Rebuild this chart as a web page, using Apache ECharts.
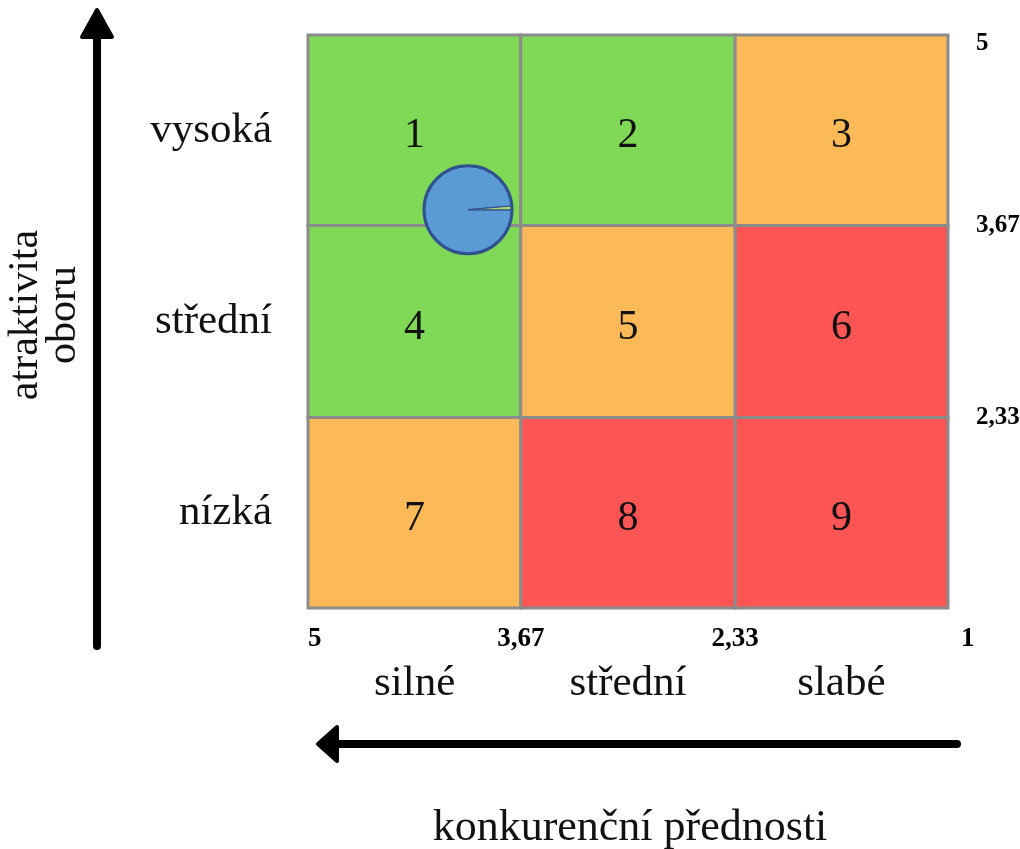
<!DOCTYPE html>
<html>
<head>
<meta charset="utf-8">
<script src="https://cdn.jsdelivr.net/npm/echarts@6/dist/echarts.min.js"></script>
<style>
  html, body { margin: 0; padding: 0; background: #ffffff; }
  #chart { width: 1020px; height: 849px; }
</style>
</head>
<body>
<div id="chart"></div>
<script>
// GE / McKinsey matrix: competitive strength (x, reversed) vs. industry attractiveness (y)
const xBounds = [5, 3.67, 2.33, 1];          // konkurenční přednosti, left to right
const yBounds = [5, 3.67, 2.33, 1];          // atraktivita oboru, top to bottom
const xTickValues = [5, 3.67, 2.33, 1];
const yTickValues = [5, 3.67, 2.33];
const strengthLabels = ['silné', 'střední', 'slabé'];
const attractLabels = ['nízká', 'střední', 'vysoká'];
const cellNumbers = [1, 2, 3, 4, 5, 6, 7, 8, 9];
const cellRating = ['invest', 'invest', 'hold', 'invest', 'hold', 'harvest', 'hold', 'harvest', 'harvest'];
// positioned pie: [x, y, share A, share B]
const pieX = [4.0];
const pieY = [3.78];
const pieShareA = [98.6];
const pieShareB = [1.4];

const ratingColor = { invest: '#7FD957', hold: '#FBB957', harvest: '#FF5555' };
const serif = "'Liberation Serif', 'Times New Roman', serif";
const fmt = v => String(v).replace('.', ',');

// one data row per cell: [x0, x1, y0, y1, number, rating index]
const cellData = [];
for (let r = 0; r < 3; r++) {
  for (let c = 0; c < 3; c++) {
    const i = r * 3 + c;
    cellData.push([xBounds[c], xBounds[c + 1], yBounds[r], yBounds[r + 1], cellNumbers[i], i]);
  }
}
const pieData = pieX.map((x, i) => [x, pieY[i], pieShareA[i], pieShareB[i]]);

const xTickFont = { fontFamily: serif, fontWeight: 'bold', fontSize: 27, color: '#000' };
const yTickFont = { fontFamily: serif, fontWeight: 'bold', fontSize: 25, color: '#000' };

const chart = echarts.init(document.getElementById('chart'));
chart.setOption({
  animation: false,
  backgroundColor: '#ffffff',
  grid: { left: 308, right: 72, top: 35, bottom: 241, outerBoundsMode: 'none', containLabel: false },
  xAxis: [
    {
      type: 'value', min: 1, max: 5, inverse: true,
      splitLine: { show: false }, axisLine: { show: false }, axisTick: { show: false },
      axisLabel: Object.assign({
        customValues: xTickValues, margin: 18,
        alignMinLabel: 'left', alignMaxLabel: 'left',
        formatter: v => (v === 1 ? '{end|1}' : fmt(v)),
        rich: { end: Object.assign({ padding: [0, 0, 0, 13] }, xTickFont) }
      }, xTickFont)
    },
    {
      type: 'category', position: 'bottom', data: strengthLabels,
      axisLine: { show: false }, axisTick: { show: false },
      axisLabel: { margin: 54, fontFamily: serif, fontSize: 43, color: '#111' }
    }
  ],
  yAxis: [
    {
      type: 'value', min: 1, max: 5, position: 'right',
      splitLine: { show: false }, axisLine: { show: false }, axisTick: { show: false },
      axisLabel: Object.assign({
        customValues: yTickValues, margin: 28,
        formatter: v => (v === 5 ? '{top|5}' : fmt(v)),
        rich: { top: Object.assign({ padding: [18, 0, 0, 0] }, yTickFont) }
      }, yTickFont)
    },
    {
      type: 'category', position: 'left', data: attractLabels,
      axisLine: { show: false }, axisTick: { show: false },
      axisLabel: { margin: 36, fontFamily: serif, fontSize: 43, color: '#111', padding: [12, 0, 0, 0] }
    }
  ],
  graphic: [
    // vertical arrow
    { type: 'line', shape: { x1: 97, y1: 646, x2: 97, y2: 30 },
      style: { stroke: '#000', lineWidth: 8, lineCap: 'round' } },
    { type: 'polygon', shape: { points: [[97, 10], [82, 37], [112, 37]] },
      style: { fill: '#000', stroke: '#000', lineWidth: 4, lineJoin: 'round' } },
    // horizontal arrow
    { type: 'line', shape: { x1: 957, y1: 744, x2: 335, y2: 744 },
      style: { stroke: '#000', lineWidth: 8, lineCap: 'round' } },
    { type: 'polygon', shape: { points: [[318, 744], [337, 727], [337, 761]] },
      style: { fill: '#000', stroke: '#000', lineWidth: 4, lineJoin: 'round' } },
    // axis titles
    { type: 'text', x: 45, y: 315, rotation: Math.PI / 2,
      style: { text: 'atraktivita\noboru', font: '42px ' + serif, fill: '#111',
               align: 'center', verticalAlign: 'middle', lineHeight: 38 } },
    { type: 'text', x: 630, y: 828,
      style: { text: 'konkurenční přednosti', font: '44px ' + serif, fill: '#111',
               align: 'center', verticalAlign: 'middle' } }
  ],
  series: [
    {
      type: 'custom', xAxisIndex: 0, yAxisIndex: 0, data: cellData, z: 2,
      renderItem: function (params, api) {
        const p0 = api.coord([api.value(0), api.value(2)]);
        const p1 = api.coord([api.value(1), api.value(3)]);
        const rating = cellRating[api.value(5)];
        return {
          type: 'group',
          children: [
            { type: 'rect',
              shape: { x: Math.min(p0[0], p1[0]), y: Math.min(p0[1], p1[1]),
                       width: Math.abs(p1[0] - p0[0]), height: Math.abs(p1[1] - p0[1]) },
              style: { fill: ratingColor[rating], stroke: '#8C8C8C', lineWidth: 3 } },
            { type: 'text', x: (p0[0] + p1[0]) / 2, y: (p0[1] + p1[1]) / 2 + 6,
              style: { text: String(api.value(4)), font: '42px ' + serif, fill: '#111',
                       align: 'center', verticalAlign: 'middle' } }
          ]
        };
      }
    },
    {
      type: 'custom', xAxisIndex: 0, yAxisIndex: 0, data: pieData, z: 5,
      renderItem: function (params, api) {
        const c = api.coord([api.value(0), api.value(1)]);
        const a = api.value(2), b = api.value(3);
        const r = 44;
        const startB = -(b / (a + b)) * Math.PI * 2;
        return {
          type: 'group',
          children: [
            { type: 'sector',
              shape: { cx: c[0], cy: c[1], r0: 0, r: r, startAngle: 0, endAngle: Math.PI * 2 + startB },
              style: { fill: '#5B9BD5', stroke: '#2F528F', lineWidth: 1.5 } },
            { type: 'sector',
              shape: { cx: c[0], cy: c[1], r0: 0, r: r, startAngle: startB, endAngle: 0 },
              style: { fill: '#B5D66A', stroke: '#2F528F', lineWidth: 1 } },
            { type: 'circle', shape: { cx: c[0], cy: c[1], r: r },
              style: { fill: 'none', stroke: '#2F528F', lineWidth: 3 } }
          ]
        };
      }
    }
  ]
});
</script>
</body>
</html>
